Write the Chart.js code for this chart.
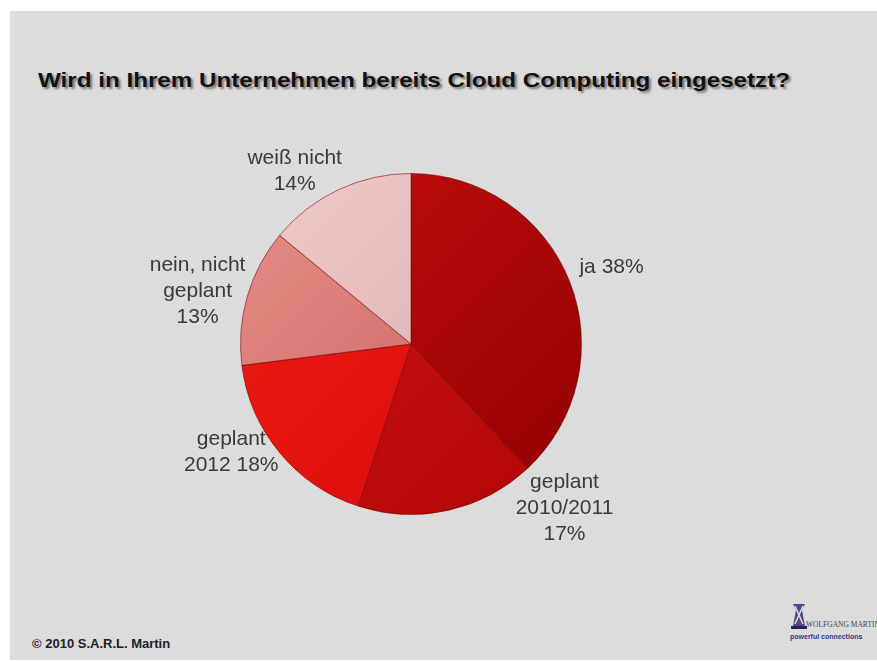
<!DOCTYPE html>
<html>
<head>
<meta charset="utf-8">
<script src="https://cdn.jsdelivr.net/npm/chart.js@4"></script>
<style>
  html, body { margin: 0; padding: 0; background: #fff; }
  #page { position: relative; width: 877px; height: 662px; overflow: hidden; }
  #panel { position: absolute; left: 10px; top: 11px; right: 0; bottom: 2px; background: #dcdcdc; }
  #title { position: absolute; left: 38px; top: 68px; font: bold 21px "Liberation Sans", Arial, sans-serif;
           color: #111; white-space: nowrap; text-shadow: 2px 2px 2px rgba(0,0,0,0.45); transform-origin: left top; }
  #footer { position: absolute; left: 32px; top: 636px; font: bold 13px "Liberation Sans", Arial, sans-serif; color: #222; white-space: nowrap; }
  #logo { position: absolute; left: 790px; top: 602px; white-space: nowrap; }
  #logo .icon { position: absolute; left: 0; top: 0; width: 18px; height: 28px; }
  #logo .name { position: absolute; left: 16px; top: 18px; font: 7.5px "Liberation Serif", serif; color: #444; }
  #logo .sub { position: absolute; left: 0; top: 31px; font: bold 7px "Liberation Sans", Arial, sans-serif; color: #2a3a8a; }
  canvas { position: absolute; left: 0; top: 0; }
</style>
</head>
<body>
<div id="page">
  <div id="panel"></div>
  <div id="title">Wird in Ihrem Unternehmen bereits Cloud Computing eingesetzt?</div>
  <div id="footer">© 2010 S.A.R.L. Martin</div>
  <div id="logo">
    <svg class="icon" viewBox="0 0 18 28">
      <path d="M3 2 L15 2 L12 8 L15 24 L3 24 L6 8 Z" fill="#3a2a7a" opacity="0.85"/>
      <path d="M5 4 L13 22 M13 4 L5 22" stroke="#dcdcdc" stroke-width="1.5"/>
      <rect x="1" y="24" width="16" height="3" fill="#2a2060"/>
    </svg>
    <div class="name">WOLFGANG MARTIN TEAM</div>
    <div class="sub">powerful connections</div>
  </div>
  <canvas id="pieChart" width="877" height="662"></canvas>
</div>
<script>
// categories and shares (in percent), clockwise from 12 o'clock
var categories = ['ja', 'geplant 2010/2011', 'geplant 2012', 'nein, nicht geplant', 'weiß nicht'];
var shares = [38, 17, 18, 13, 14];
// label text as printed on the slide (one entry per line)
var labelLines = [
    ['ja 38%'],
    ['geplant', '2010/2011', '17%'],
    ['geplant', '2012 18%'],
    ['nein, nicht', 'geplant', '13%'],
    ['weiß nicht', '14%']
];

// styles
var sliceColors = [
    ['#c80e0e', '#900000'],
    ['#d21414', '#b00606'],
    ['#f21c12', '#d40a0a'],
    ['#e89088', '#c25a5a'],
    ['#f2caca', '#d6a8aa']
];
// label placement: angle (deg, clockwise from top) and distance as factor of radius
var labelLayout = [
    [69, 1.26], [137, 1.32], [239, 1.23], [284, 1.29], [326, 1.22]
];

var title = document.getElementById('title');
var tw = title.getBoundingClientRect().width;
title.style.transform = 'scaleX(' + (752 / tw) + ')';

var sliceLabels = {
    id: 'sliceLabels',
    afterDatasetsDraw: function(chart) {
        var ctx = chart.ctx;
        var meta = chart.getDatasetMeta(0);
        ctx.save();
        ctx.font = '21px "Liberation Sans", Arial, sans-serif';
        ctx.fillStyle = '#3a3a3a';
        ctx.textAlign = 'center';
        ctx.textBaseline = 'middle';
        meta.data.forEach(function(arc, i) {
            var a = labelLayout[i][0] * Math.PI / 180;
            var d = labelLayout[i][1] * arc.outerRadius;
            var cx = arc.x + Math.sin(a) * d;
            var cy = arc.y - Math.cos(a) * d;
            var lines = labelLines[i];
            var lh = 26;
            var y0 = cy - (lines.length - 1) * lh / 2;
            lines.forEach(function(t, k) { ctx.fillText(t, cx, y0 + k * lh); });
        });
        ctx.restore();
    }
};

var ctx = document.getElementById('pieChart').getContext('2d');
new Chart(ctx, {
    type: 'pie',
    data: {
        labels: categories,
        datasets: [{
            data: shares,
            backgroundColor: function(c) {
                var area = c.chart.chartArea;
                if (!area) return sliceColors[c.dataIndex][0];
                var g = c.chart.ctx.createLinearGradient(area.left, area.top, area.right, area.bottom);
                g.addColorStop(0, sliceColors[c.dataIndex][0]);
                g.addColorStop(1, sliceColors[c.dataIndex][1]);
                return g;
            },
            borderColor: 'rgba(110,0,0,0.55)',
            borderWidth: 1
        }]
    },
    options: {
        responsive: false,
        animation: false,
        layout: { padding: { left: 240, right: 295, top: 173, bottom: 147 } },
        plugins: {
            legend: { display: false },
            tooltip: { enabled: false }
        }
    },
    plugins: [sliceLabels]
});
</script>
</body>
</html>
